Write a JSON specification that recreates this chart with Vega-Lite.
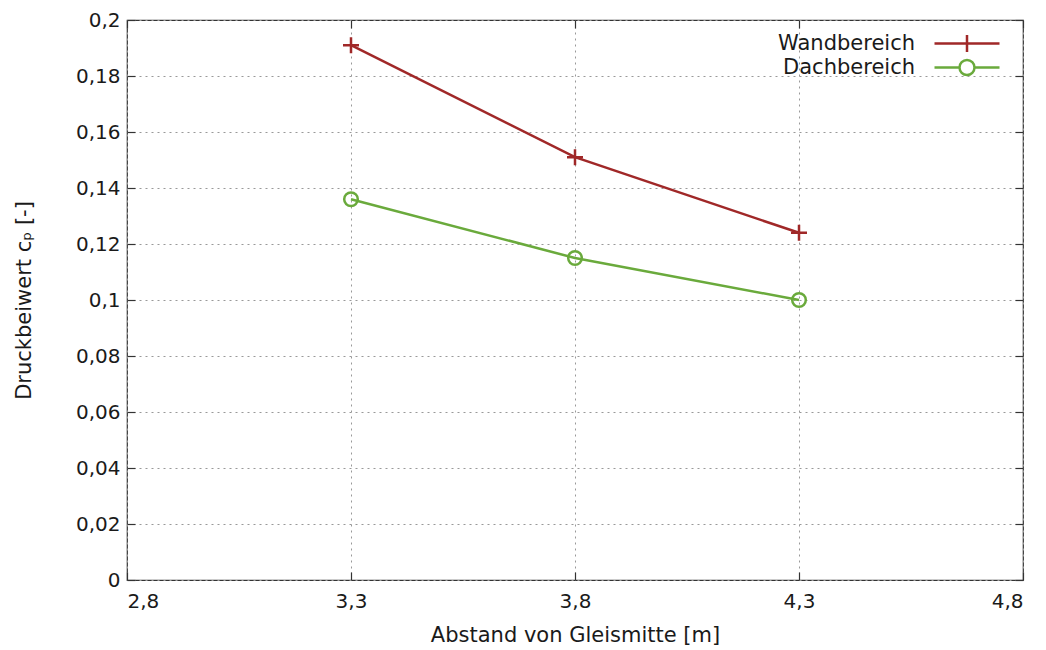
{
  "$schema": "https://vega.github.io/schema/vega-lite/v6.json",
  "autosize": {"type": "none"},
  "width": 896,
  "height": 560,
  "padding": {"left": 127, "top": 20, "right": 23, "bottom": 70},
  "background": "white",
  "config": {
    "font": "DejaVu Sans",
    "view": {"stroke": "#333333", "strokeWidth": 1.2},
    "axis": {
      "labelFont": "DejaVu Sans",
      "titleFont": "DejaVu Sans",
      "labelFontSize": 20,
      "titleFontSize": 21,
      "titleFontWeight": "normal",
      "labelColor": "#1a1a1a",
      "titleColor": "#1a1a1a",
      "domain": false,
      "tickColor": "#333333",
      "tickSize": -8,
      "tickWidth": 1.2,
      "gridColor": "#999999",
      "gridDash": [2, 4],
      "gridWidth": 1
    }
  },
  "data": {
    "values": [
      {"abstand": 3.3, "cp": 0.191, "serie": "Wandbereich"},
      {"abstand": 3.8, "cp": 0.151, "serie": "Wandbereich"},
      {"abstand": 4.3, "cp": 0.124, "serie": "Wandbereich"},
      {"abstand": 3.3, "cp": 0.136, "serie": "Dachbereich"},
      {"abstand": 3.8, "cp": 0.115, "serie": "Dachbereich"},
      {"abstand": 4.3, "cp": 0.1, "serie": "Dachbereich"}
    ]
  },
  "layer": [
    {
      "mark": {"type": "line", "strokeWidth": 2.5},
      "encoding": {
        "x": {
          "field": "abstand", "type": "quantitative",
          "scale": {"domain": [2.8, 4.8], "nice": false, "zero": false},
          "axis": {
            "orient": "bottom",
            "values": [2.8, 3.3, 3.8, 4.3, 4.8],
            "labelExpr": "replace(format(datum.value, '~g'), '.', ',')",
            "title": "Abstand von Gleismitte [m]",
            "grid": true,
            "labelPadding": 19,
            "titlePadding": 13
          }
        },
        "y": {
          "field": "cp", "type": "quantitative",
          "scale": {"domain": [0, 0.2], "nice": false},
          "axis": {
            "orient": "left",
            "values": [0, 0.02, 0.04, 0.06, 0.08, 0.1, 0.12, 0.14, 0.16, 0.18, 0.2],
            "labelExpr": "replace(format(datum.value, '~g'), '.', ',')",
            "title": "Druckbeiwert cₚ [-]",
            "grid": true,
            "labelPadding": 15,
            "titlePadding": 41
          }
        },
        "color": {
          "field": "serie", "type": "nominal",
          "scale": {"domain": ["Wandbereich", "Dachbereich"], "range": ["#a02828", "#6aaa3c"]},
          "legend": {
            "title": null,
            "orient": "none",
            "legendX": 648,
            "legendY": 13,
            "padding": 0,
            "rowPadding": -2,
            "labelFontSize": 21,
            "labelFont": "DejaVu Sans",
            "labelColor": "#1a1a1a",
            "symbolSize": 100,
            "symbolStrokeWidth": 2.5,
            "encode": {
              "symbols": {
                "update": {
                  "x": {"value": 192},
                  "shape": {"signal": "datum.value === 'Wandbereich' ? 'M-6.5,0H6.5M0,-1.7V1.7' : 'M-6.5,0H-1.5M1.5,0H6.5M1.5,0A1.5,1.5,0,1,1,-1.5,0A1.5,1.5,0,1,1,1.5,0'"},
                  "fill": {"value": "transparent"},
                  "strokeWidth": {"value": 2.5}
                }
              },
              "labels": {
                "update": {
                  "x": {"value": 140},
                  "align": {"value": "right"}
                }
              }
            }
          }
        }
      }
    },
    {
      "transform": [{"filter": "datum.serie === 'Wandbereich'"}],
      "mark": {"type": "point", "filled": false, "strokeWidth": 2.5, "opacity": 1, "shape": "M-1,0H1M0,-1V1", "size": 256, "color": "#a02828"},
      "encoding": {
        "x": {
          "field": "abstand", "type": "quantitative",
          "scale": {"domain": [2.8, 4.8], "nice": false, "zero": false},
          "axis": {"orient": "top", "values": [2.8, 3.3, 3.8, 4.3, 4.8], "labels": false, "title": null, "grid": false}
        },
        "y": {
          "field": "cp", "type": "quantitative",
          "scale": {"domain": [0, 0.2], "nice": false},
          "axis": {"orient": "right", "values": [0, 0.02, 0.04, 0.06, 0.08, 0.1, 0.12, 0.14, 0.16, 0.18, 0.2], "labels": false, "title": null, "grid": false}
        }
      }
    },
    {
      "transform": [{"filter": "datum.serie === 'Dachbereich'"}],
      "mark": {"type": "point", "filled": false, "strokeWidth": 2.5, "opacity": 1, "shape": "circle", "size": 185, "color": "#6aaa3c"},
      "encoding": {
        "x": {
          "field": "abstand", "type": "quantitative",
          "scale": {"domain": [2.8, 4.8], "nice": false, "zero": false},
          "axis": null
        },
        "y": {
          "field": "cp", "type": "quantitative",
          "scale": {"domain": [0, 0.2], "nice": false},
          "axis": null
        }
      }
    }
  ],
  "resolve": {"scale": {"x": "independent", "y": "independent"}}
}
